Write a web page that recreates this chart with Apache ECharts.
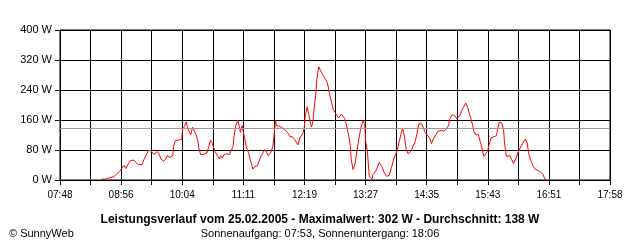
<!DOCTYPE html>
<html><head><meta charset="utf-8">
<script src="https://cdn.jsdelivr.net/npm/echarts@6/dist/echarts.min.js"></script>
<style>html,body{margin:0;padding:0;background:#fff}#c{width:640px;height:240px}</style>
</head><body><div id="c"></div>
<script>
// axis range (minutes of day)
const startTime = '07:48';
const endTime = '17:58';
const xTickLabels = ['07:48','08:56','10:04','11:11','12:19','13:27','14:35','15:43','16:51','17:58'];
const yTickValues = [0, 80, 160, 240, 320, 400];
const average = 138;
const titleText = 'Leistungsverlauf vom 25.02.2005 - Maximalwert: 302 W - Durchschnitt: 138 W';
const subText = 'Sonnenaufgang: 07:53, Sonnenuntergang: 18:06';
const credit = '\u00A9 SunnyWeb';

const times = ['08:34','08:40','08:43','08:48','08:51','08:54','08:56','08:59','09:01','09:04','09:06','09:08','09:10','09:12','09:15','09:19','09:21','09:24','09:26','09:29','09:31','09:32','09:34','09:36','09:38','09:40','09:43','09:45','09:47','09:50','09:53','09:54','09:56','09:59','10:03','10:04','10:06','10:08','10:09','10:11','10:13','10:15','10:17','10:19','10:21','10:22','10:24','10:26','10:27','10:29','10:31','10:33','10:35','10:37','10:38','10:40','10:43','10:45','10:46','10:48','10:50','10:53','10:56','10:58','11:00','11:01','11:03','11:05','11:07','11:08','11:10','11:11','11:13','11:15','11:17','11:19','11:21','11:22','11:24','11:27','11:29','11:31','11:33','11:35','11:37','11:39','11:42','11:44','11:45','11:47','11:48','11:50','11:52','11:54','11:56','11:59','12:01','12:03','12:06','12:08','12:10','12:12','12:14','12:16','12:18','12:19','12:20','12:22','12:24','12:26','12:27','12:29','12:30','12:32','12:33','12:35','12:36','12:38','12:40','12:42','12:44','12:46','12:47','12:49','12:51','12:53','12:55','12:57','12:59','13:00','13:02','13:04','13:06','13:08','13:10','13:11','13:13','13:15','13:17','13:19','13:21','13:23','13:24','13:26','13:27','13:29','13:31','13:34','13:35','13:39','13:42','13:45','13:47','13:50','13:53','13:56','13:58','14:01','14:03','14:06','14:08','14:10','14:12','14:14','14:17','14:19','14:22','14:24','14:26','14:29','14:31','14:33','14:35','14:38','14:40','14:42','14:45','14:47','14:49','14:51','14:54','14:56','14:59','15:00','15:03','15:06','15:08','15:10','15:12','15:13','15:16','15:18','15:20','15:22','15:24','15:26','15:27','15:29','15:32','15:34','15:36','15:38','15:40','15:42','15:44','15:46','15:49','15:52','15:53','15:55','15:58','16:00','16:01','16:03','16:05','16:07','16:09','16:11','16:13','16:14','16:16','16:18','16:21','16:24','16:26','16:27','16:28','16:31','16:33','16:35','16:37','16:40','16:42','16:44','16:46'];
const watts = [2,3,6,9,17,23,29,39,31,44,52,47,53,47,41,41,54,68,79,78,78,68,63,76,69,56,50,56,65,60,65,90,106,106,109,134,143,155,145,130,121,141,139,121,103,85,68,63,68,65,72,90,106,97,90,76,63,56,65,59,68,70,68,72,90,116,145,159,143,127,145,132,108,85,74,54,38,29,36,38,38,65,72,81,74,65,74,90,109,159,145,150,143,148,136,130,124,116,115,109,106,94,112,115,127,143,170,195,174,150,141,163,195,236,272,302,296,287,278,274,263,243,228,210,188,180,177,165,163,176,174,163,143,121,90,54,28,41,72,103,130,150,159,148,103,74,10,3,14,27,47,36,23,10,12,36,56,72,90,121,139,116,81,70,76,81,103,125,150,150,139,127,127,112,97,109,121,130,127,132,130,134,145,161,174,171,163,161,174,183,196,205,194,178,161,143,130,121,121,103,85,63,70,76,94,112,115,118,130,154,152,134,99,63,61,65,54,44,45,59,74,83,97,109,100,97,68,47,36,29,28,23,23,14,0];

function toMin(t){ const p = t.split(':'); return (+p[0])*60 + (+p[1]); }
const x0 = toMin(startTime), span = toMin(endTime) - x0;
const step = span / 18;
const seriesData = times.map((t, i) => [toMin(t) - x0, watts[i]]);
const font = "'Liberation Sans',Arial,sans-serif";

const chart = echarts.init(document.getElementById('c'), null, {renderer: 'canvas'});
chart.setOption({
  animation: false,
  backgroundColor: '#fff',
  grid: {left: 60, right: 30, top: 30, bottom: 60, show: true, borderColor: '#000', borderWidth: 1},
  title: [
    {text: titleText, left: 'center', top: 209, textStyle: {fontFamily: font, fontSize: 12, fontWeight: 'bold', color: '#000'}},
    {text: subText, left: 'center', top: 223, textStyle: {fontFamily: font, fontSize: 11, fontWeight: 'normal', color: '#000'}},
    {text: credit, left: 4, top: 223, textStyle: {fontFamily: font, fontSize: 11, fontWeight: 'normal', color: '#000'}}
  ],
  xAxis: {
    type: 'value', min: 0, max: span, interval: step,
    axisLine: {lineStyle: {color: '#000', width: 1}},
    axisTick: {show: true, length: 5, lineStyle: {color: '#000'}},
    splitLine: {show: true, lineStyle: {color: '#000', width: 1}},
    axisLabel: {
      margin: 10, color: '#000', fontFamily: font, fontSize: 10, showMaxLabel: true, showMinLabel: true,
      formatter: function(v){ const k = Math.round(v / step); return k % 2 === 0 ? xTickLabels[k/2] : ''; }
    }
  },
  yAxis: {
    type: 'value', min: yTickValues[0], max: yTickValues[yTickValues.length-1], interval: yTickValues[1] - yTickValues[0],
    axisLine: {show: true, lineStyle: {color: '#000', width: 1}},
    axisTick: {show: true, length: 5, lineStyle: {color: '#000'}},
    splitLine: {show: true, lineStyle: {color: '#000', width: 1}},
    axisLabel: {margin: 8, color: '#000', fontFamily: font, fontSize: 11, formatter: v => v + ' W'}
  },
  series: [{
    type: 'line', data: seriesData, showSymbol: false, symbol: 'none',
    lineStyle: {color: '#ff0000', width: 1}, z: 3,
    markLine: {silent: true, symbol: 'none', label: {show: false},
      lineStyle: {color: '#999', width: 1, type: 'solid'},
      data: [{yAxis: average}]}
  }]
});
</script></body></html>
